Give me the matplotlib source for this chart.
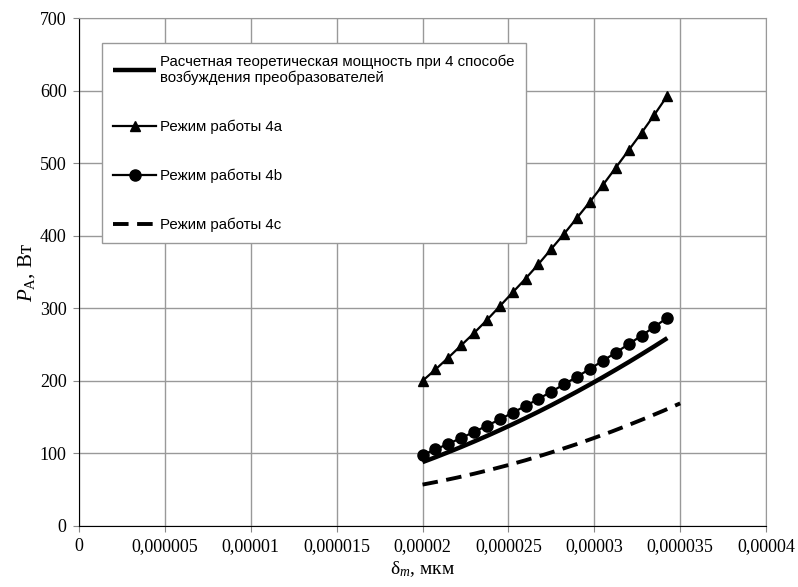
import numpy as np
import matplotlib
matplotlib.use("Agg")
import matplotlib.pyplot as plt

plt.rcParams['mathtext.fontset'] = 'custom'
plt.rcParams['mathtext.rm'] = 'Liberation Serif'
plt.rcParams['mathtext.it'] = 'Liberation Serif:italic'

# x values, micrometre-scale numbers (multiplied by 1e-6 below)
x_mode = np.array([20.0, 20.75, 21.5, 22.25, 23.0, 23.75, 24.5, 25.25, 26.0, 26.75,
                   27.5, 28.25, 29.0, 29.75, 30.5, 31.25, 32.0, 32.75, 33.5, 34.25]) * 1e-6
x_4c = np.array([20, 21, 22, 23, 24, 25, 26, 27, 28, 29,
                 30, 31, 32, 33, 34, 35]) * 1e-6

p_theory = [88, 94.7, 101.7, 108.9, 116.4, 124.1, 132.1, 140.3, 148.8, 157.5,
            166.5, 175.8, 185.3, 195.1, 205.1, 215.4, 225.9, 236.7, 247.7, 259]
p_4a = [200, 215.7, 232, 249, 266, 284, 303, 322, 341, 361,
        382, 403, 425, 447, 470, 494, 518, 542, 567, 593]
p_4b = [98, 105.5, 113.2, 121.3, 129.6, 138.1, 147, 156.1, 165.5, 175.2,
        185.1, 195.4, 205.8, 216.6, 227.7, 239, 250.6, 262.4, 274.6, 287]
p_4c = [57, 61.6, 66.6, 72, 77.8, 84, 90.6, 97.7, 105.2, 113,
        121.4, 130, 139.2, 148.7, 158.6, 169]

x_ticks = np.arange(0, 0.0000401, 0.000005)
x_labels = ['0', '0,000005', '0,00001', '0,000015', '0,00002',
            '0,000025', '0,00003', '0,000035', '0,00004']
y_ticks = [0, 100, 200, 300, 400, 500, 600, 700]

fig = plt.figure(figsize=(7.98, 5.87), dpi=100)
ax = fig.add_axes([0.099, 0.104, 0.861, 0.865])

ax.plot(x_mode, p_theory, color='black', lw=3.2, solid_capstyle='butt',
        label='Расчетная теоретическая мощность при 4 способе\nвозбуждения преобразователей')
ax.plot(x_mode, p_4a, color='black', lw=1.6, marker='^', markersize=7,
        label='Режим работы 4a')
ax.plot(x_mode, p_4b, color='black', lw=1.6, marker='o', markersize=8,
        label='Режим работы 4b')
ax.plot(x_4c, p_4c, color='black', lw=2.8, dashes=(4, 2.2),
        label='Режим работы 4c')

ax.set_xlim(0, 0.00004)
ax.set_ylim(0, 700)
ax.set_xticks(x_ticks)
ax.set_xticklabels(x_labels)
ax.set_yticks(y_ticks)
for lab in ax.get_xticklabels() + ax.get_yticklabels():
    lab.set_fontfamily('Liberation Serif')
    lab.set_fontsize(13)
ax.tick_params(direction='out', length=4, color='#888888', pad=5)

ax.grid(True, color='#999999', lw=1)
ax.set_axisbelow(True)
ax.spines['left'].set_color('black')
ax.spines['bottom'].set_color('black')
ax.spines['top'].set_color('#999999')
ax.spines['right'].set_color('#999999')

ax.set_ylabel(r'$P_{\mathrm{A}}$, Вт', fontfamily='Liberation Serif', fontsize=15, labelpad=2)
ax.set_xlabel('δ$_m$, мкм', fontfamily='Liberation Serif', fontsize=14, labelpad=3)

leg = ax.legend(loc='upper left', bbox_to_anchor=(0.033, 0.951), fancybox=False,
                framealpha=1, edgecolor='#999999', handlelength=2.9, handletextpad=0.25,
                labelspacing=2.3, borderpad=0.75, borderaxespad=0,
                prop={'family': 'Liberation Sans', 'size': 10.8})
leg.get_frame().set_linewidth(1)

fig.savefig('out.png', dpi=100)
